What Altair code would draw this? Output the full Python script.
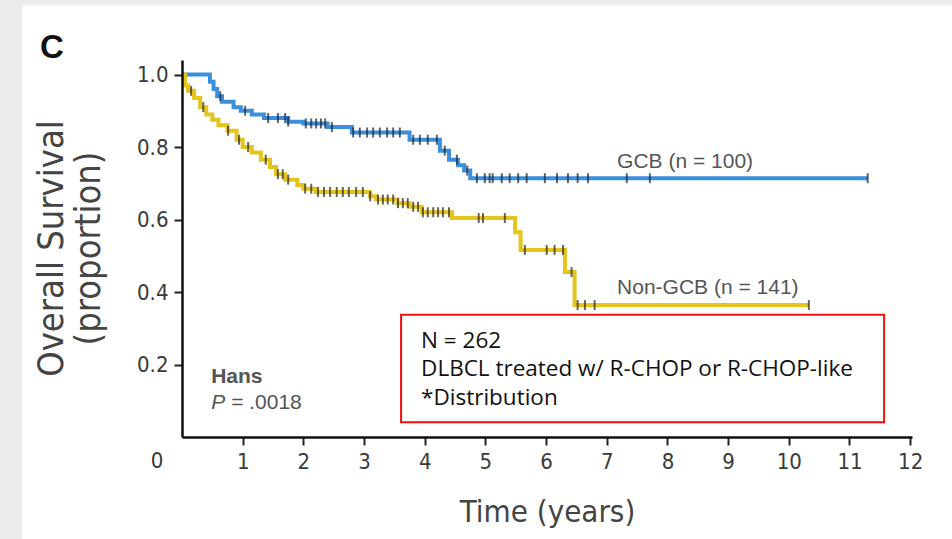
import altair as alt
import pandas as pd

# ---- data ----
gcb_t = [0, 0.46, 0.52, 0.58, 0.66, 0.85, 0.97, 1.15, 1.35, 1.75, 2.0, 2.4, 2.8, 3.75, 4.25, 4.4, 4.55, 4.65, 4.75, 11.3]
gcb_s = [1.0, 0.98, 0.96, 0.94, 0.925, 0.91, 0.90, 0.89, 0.88, 0.87, 0.865, 0.855, 0.84, 0.82, 0.79, 0.765, 0.75, 0.735, 0.714, 0.714]
gcb_cens = [0.63, 1.04, 1.42, 1.58, 1.70, 1.75, 2.04, 2.13, 2.21, 2.29, 2.36, 2.47, 2.82, 2.93, 3.05, 3.15,
            3.26, 3.38, 3.48, 3.59, 3.81, 3.92, 4.05, 4.20, 4.33, 4.53, 4.70, 4.86, 4.99, 5.07, 5.12, 5.27,
            5.40, 5.54, 5.68, 5.98, 6.18, 6.36, 6.52, 6.69, 7.33, 7.71, 11.30]

ngcb_t = [0, 0.05, 0.10, 0.2, 0.3, 0.4, 0.5, 0.6, 0.75, 0.9, 1.0, 1.15, 1.3, 1.45, 1.55, 1.7, 1.9, 2.0, 2.2,
          3.1, 3.2, 3.55, 3.75, 3.95, 4.45, 5.49, 5.58, 6.31, 6.47, 10.33]
ngcb_s = [1.0, 0.97, 0.955, 0.935, 0.91, 0.89, 0.875, 0.86, 0.845, 0.82, 0.80, 0.785, 0.765, 0.745, 0.725,
          0.71, 0.695, 0.685, 0.676, 0.664, 0.655, 0.645, 0.635, 0.62, 0.604, 0.565, 0.516, 0.455, 0.364, 0.364]
ngcb_cens = [0.15, 0.35, 0.76, 0.94, 1.09, 1.38, 1.58, 1.66, 1.75, 2.03, 2.13, 2.24, 2.34, 2.44, 2.55, 2.65,
             2.75, 2.87, 2.98, 3.10, 3.23, 3.31, 3.39, 3.48, 3.56, 3.64, 3.72, 3.81, 3.89, 3.97, 4.05, 4.14,
             4.22, 4.30, 4.40, 4.89, 4.96, 5.32, 5.65, 6.01, 6.14, 6.28, 6.42, 6.52, 6.64, 6.80, 10.33]

x_ticks = [1, 2, 3, 4, 5, 6, 7, 8, 9, 10, 11, 12]
y_ticks = [0.2, 0.4, 0.6, 0.8, 1.0]

series_labels = ["GCB (n = 100)", "Non-GCB (n = 141)"]
label_t = [7.17, 7.17]
label_s = [0.759, 0.411]

box_lines = ["N = 262", "DLBCL treated w/ R-CHOP or R-CHOP-like", "*Distribution"]
box_line_s = [0.265, 0.188, 0.108]
box_t = [3.61, 11.57]
box_s = [0.041, 0.337]
box_text_t = 3.94

method_name = "Hans"
p_value = "= .0018"

# ---- helpers ----
def step_value(ts, ss, t):
    v = ss[0]
    for ti, si in zip(ts, ss):
        if ti <= t:
            v = si
    return v

gcb_df = pd.DataFrame({"t": gcb_t, "s": gcb_s})
ngcb_df = pd.DataFrame({"t": ngcb_t, "s": ngcb_s})
gcb_c_df = pd.DataFrame({"t": gcb_cens, "s": [step_value(gcb_t, gcb_s, c) for c in gcb_cens]})
ngcb_c_df = pd.DataFrame({"t": ngcb_cens, "s": [step_value(ngcb_t, ngcb_s, c) for c in ngcb_cens]})

COND = "'Liberation Sans Narrow', 'DejaVu Sans Condensed', 'Roboto', sans-serif"
SANS = "'Liberation Sans', Arial, sans-serif"

xscale = alt.Scale(domain=[0, 12.03], nice=False, zero=False)
yscale = alt.Scale(domain=[0, 1.04], nice=False, zero=False)

xaxis = alt.Axis(values=x_ticks, format="d", grid=False, tickSize=8, tickWidth=2, tickColor="#222",
                 domainColor="#111", domainWidth=2.5, labelFont=COND, labelFontSize=22, labelColor="#3a3a3a",
                 labelPadding=6, title="Time (years)", titleFont=COND, titleFontSize=31,
                 titleFontWeight="normal", titleColor="#444", titleX=365, titleY=84,
                 titleBaseline="alphabetic", titleAlign="center", zindex=1)
yaxis = alt.Axis(values=y_ticks, format=".1f", grid=False, tickSize=8, tickWidth=2, tickColor="#222",
                 domainColor="#111", domainWidth=2.5, labelFont=COND, labelFontSize=22, labelColor="#3a3a3a",
                 labelPadding=6, title=["Overall Survival", "(proportion)"], titleFont=COND,
                 titleFontSize=36, titleLineHeight=37, titleFontWeight="normal", titleColor="#444",
                 titleAngle=270, titleX=-120, titleY=188, titleBaseline="alphabetic", titleAlign="center",
                 zindex=1)

def X(f="t"):
    return alt.X(f, type="quantitative", scale=xscale, axis=xaxis)

def Y(f="s"):
    return alt.Y(f, type="quantitative", scale=yscale, axis=yaxis)

# white panel over grey page background
panel = alt.Chart(pd.DataFrame({"a": [0]})).mark_rect(color="white").encode(
    x=alt.value(-160), x2=alt.value(770), y=alt.value(-55), y2=alt.value(479))

box = alt.Chart(pd.DataFrame({"t0": [box_t[0]], "t1": [box_t[1]], "s0": [box_s[0]], "s1": [box_s[1]]})).mark_rect(
    fill="white", stroke="#f01010", strokeWidth=2).encode(
    x=X("t0"), x2="t1", y=Y("s0"), y2="s1")

line_g = alt.Chart(gcb_df).mark_line(interpolate="step-after", strokeWidth=4, color="#3b8fdc").encode(x=X(), y=Y())
line_n = alt.Chart(ngcb_df).mark_line(interpolate="step-after", strokeWidth=4, color="#e5c41c").encode(x=X(), y=Y())

cens_g = alt.Chart(gcb_c_df).mark_tick(orient="vertical", size=10, thickness=2, color="#1c2230").encode(x=X(), y=Y())
cens_n = alt.Chart(ngcb_c_df).mark_tick(orient="vertical", size=10, thickness=2, color="#2a2410").encode(x=X(), y=Y())

lbl = alt.Chart(pd.DataFrame({"t": label_t, "s": label_s, "txt": series_labels})).mark_text(
    align="left", baseline="middle", font=SANS, fontSize=21, color="#555").encode(x=X(), y=Y(), text="txt")

hans = alt.Chart(pd.DataFrame({"t": [0.48], "s": [0.166], "txt": [method_name]})).mark_text(
    align="left", baseline="middle", font=SANS, fontSize=21, fontWeight="bold", color="#555").encode(
    x=X(), y=Y(), text="txt")
p_it = alt.Chart(pd.DataFrame({"t": [0.48], "s": [0.094], "txt": ["P"]})).mark_text(
    align="left", baseline="middle", font=SANS, fontSize=21, fontStyle="italic", color="#555").encode(
    x=X(), y=Y(), text="txt")
p_val = alt.Chart(pd.DataFrame({"t": [0.48], "s": [0.094], "txt": [p_value]})).mark_text(
    align="left", baseline="middle", font=SANS, fontSize=21, color="#555", dx=20).encode(
    x=X(), y=Y(), text="txt")

box_txt = alt.Chart(pd.DataFrame({"t": [box_text_t] * 3, "s": box_line_s, "txt": box_lines})).mark_text(
    align="left", baseline="middle", font="'Open Sans', 'Noto Sans', sans-serif", fontSize=22.5, color="#111").encode(
    x=X(), y=Y(), text="txt")

zero_lbl = alt.Chart(pd.DataFrame({"t": [0], "s": [0], "txt": ["0"]})).mark_text(
    align="center", baseline="top", font=COND, fontSize=22, color="#3a3a3a", dx=-25, dy=14).encode(
    x=X(), y=Y(), text="txt")

panel_letter = alt.Chart(pd.DataFrame({"txt": ["C"]})).mark_text(
    align="left", baseline="alphabetic", font=SANS, fontSize=33, fontWeight="bold", color="#111").encode(
    x=alt.value(-142), y=alt.value(-2), text="txt")

chart = alt.layer(panel, box, line_g, line_n, cens_g, cens_n, lbl, hans, p_it, p_val, box_txt, zero_lbl,
                  panel_letter).properties(
    width=730, height=377,
    autosize=alt.AutoSizeParams(type="none"),
    padding={"left": 182, "top": 60, "right": 40, "bottom": 102},
    background="#ebebeb",
).configure_view(stroke=None)

chart.save("out.html", embed_options={"renderer": "svg", "actions": False})
